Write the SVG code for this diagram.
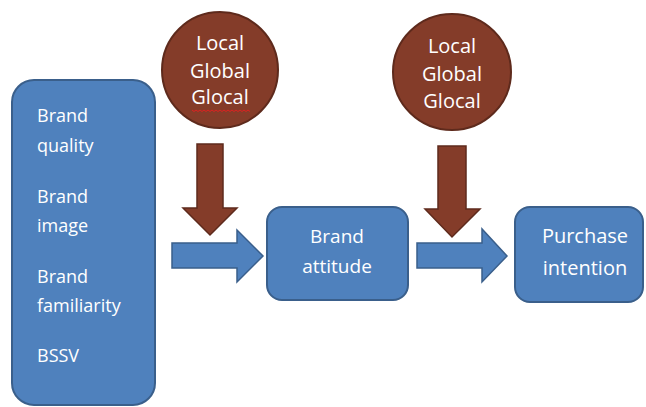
<svg xmlns="http://www.w3.org/2000/svg" width="646" height="407" viewBox="0 0 646 407">
<style>
.box{fill:#4F81BD;stroke:#3A5F8B;stroke-width:2}
.circ{fill:#843C29;stroke:#5E2A1C;stroke-width:2}
.barrow{fill:#843C29;stroke:#5E2A1C;stroke-width:1.5}
.farrow{fill:#4F81BD;stroke:#3A5F8B;stroke-width:1.5}
text{font-family:"Open Sans","Noto Sans",sans-serif;fill:#ffffff}
.c{text-anchor:middle}
</style>
<rect width="646" height="407" fill="#ffffff"/>
<g id="factors">
<rect class="box" x="12" y="80" width="143" height="325" rx="22"/>
<text x="37" y="122" font-size="18">Brand</text>
<text x="37" y="152" font-size="18">quality</text>
<text x="37" y="203" font-size="18">Brand</text>
<text x="37" y="232" font-size="18">image</text>
<text x="37" y="283" font-size="18">Brand</text>
<text x="37" y="312" font-size="18">familiarity</text>
<text x="37" y="362" font-size="18">BSSV</text>
</g>
<g id="moderator1">
<ellipse class="circ" cx="220" cy="70" rx="58" ry="58"/>
<text class="c" x="220" y="50" font-size="20">Local</text>
<text class="c" x="220" y="78" font-size="20">Global</text>
<text class="c" x="220" y="104" font-size="20">Glocal</text>
<path d="M192 110 l2 1.5 l2 -1.5 l2 1.5 l2 -1.5 l2 1.5 l2 -1.5 l2 1.5 l2 -1.5 l2 1.5 l2 -1.5 l2 1.5 l2 -1.5 l2 1.5 l2 -1.5 l2 1.5 l2 -1.5 l2 1.5 l2 -1.5 l2 1.5 l2 -1.5 l2 1.5 l2 -1.5 l2 1.5 l2 -1.5 l2 1.5 l2 -1.5 l2 1.5 l2 -1.5 l2 1.5" fill="none" stroke="#E02020" stroke-width="1"/>
</g>
<g id="brand-attitude">
<rect class="box" x="267" y="207" width="141" height="93" rx="15"/>
<text class="c" x="337" y="243" font-size="19">Brand</text>
<text class="c" x="337" y="273" font-size="19">attitude</text>
</g>
<g id="moderator2">
<ellipse class="circ" cx="452" cy="72" rx="59" ry="58"/>
<text class="c" x="452" y="53" font-size="20">Local</text>
<text class="c" x="452" y="81" font-size="20">Global</text>
<text class="c" x="452" y="108" font-size="20">Glocal</text>
</g>
<g id="purchase-intention">
<rect class="box" x="515" y="207" width="128" height="95" rx="15"/>
<text class="c" x="585" y="243" font-size="20">Purchase</text>
<text class="c" x="585" y="275" font-size="20">intention</text>
</g>
<g id="connectors">
<polygon class="barrow" points="197,144 223,144 223,208 237,208 210,235 183,208 197,208"/>
<polygon class="farrow" points="172,243 237,243 237,230 263,256 237,282 237,268 172,268"/>
<polygon class="barrow" points="438,146 466,146 466,209 480,209 452,237 425,209 438,209"/>
<polygon class="farrow" points="417,243 482,243 482,229 507,256 482,282 482,268 417,268"/>
</g>
</svg>
